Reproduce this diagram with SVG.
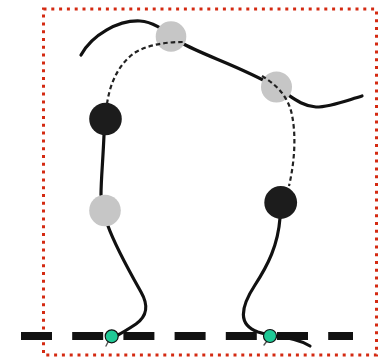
<svg xmlns="http://www.w3.org/2000/svg" width="380" height="357" viewBox="0 0 380 357">
  <style>
    .frame { fill: none; stroke: #d42a12; stroke-width: 3; stroke-dasharray: 3 4.8; }
    .ground { fill: none; stroke: #111; stroke-width: 8; stroke-dasharray: 31 20.2; }
    .limb { fill: none; stroke: #111; stroke-width: 3.2; stroke-linecap: round; stroke-linejoin: round; }
    .hidden { fill: none; stroke: #222; stroke-width: 2.2; stroke-dasharray: 4.5 3; }
    .tick { fill: none; stroke: #555; stroke-width: 1.4; stroke-linecap: round; }
    .joint-dark { fill: #1c1c1c; }
    .joint-light { fill: #c6c6c6; }
    .contact { fill: #1fc996; stroke: #111; stroke-width: 1.2; }
  </style>

  <rect class="frame" x="43.5" y="9" width="333" height="346"/>

  <line class="ground" x1="21" y1="336" x2="353" y2="336"/>

  <g id="connectors">
    <!-- upper body curve, passing behind the two light joints -->
    <path class="limb" d="M81,55 C92,35 118,20 140,21 C155,22 166,32 180,42 C202,55 240,66 276,87 C290,95 300,106 316,107 C330,107 345,101 362,96"/>
    <!-- left leg -->
    <path class="limb" d="M104,135 C103,160 101,180 101,195"/>
    <path class="limb" d="M108,226 C116,248 132,276 141,292 C149,306 147,316 136,324 C130,328 124,332 116,336"/>
    <!-- right leg -->
    <path class="limb" d="M280,218 C278,245 268,265 255,285 C240,308 238,325 258,332 L272,336 C290,338 300,340 310,346"/>
    <!-- small marks below the contact points -->
    <path class="tick" d="M108,342 L106,346"/>
    <path class="tick" d="M267,341 L264,345"/>
  </g>

  <g id="joint-hip-left">
    <circle class="joint-light" cx="171" cy="36.5" r="15.3"/>
  </g>
  <g id="joint-hip-right">
    <circle class="joint-light" cx="276.5" cy="87" r="15.5"/>
  </g>
  <g id="joint-knee-left">
    <circle class="joint-dark" cx="105.5" cy="119" r="16.3"/>
  </g>
  <g id="joint-ankle-left">
    <circle class="joint-light" cx="105" cy="210.5" r="15.8"/>
  </g>
  <g id="joint-knee-right">
    <circle class="joint-dark" cx="280.7" cy="202.5" r="16.4"/>
  </g>

  <g id="hidden-links">
    <path class="hidden" d="M107,104 C110,82 120,62 136,52 C150,44 168,42 183,42"/>
    <path class="hidden" d="M262,76 C275,84 288,95 292,115 C296,135 295,160 289,186"/>
  </g>

  <g id="contact-left">
    <circle class="contact" cx="111.7" cy="336.3" r="6.5"/>
  </g>
  <g id="contact-right">
    <circle class="contact" cx="270" cy="336" r="6.5"/>
  </g>
</svg>
